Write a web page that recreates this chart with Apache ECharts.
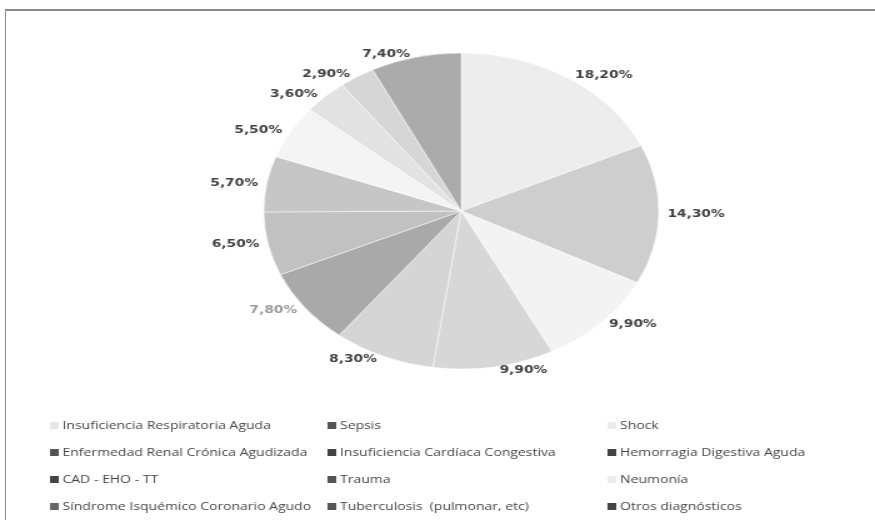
<!DOCTYPE html>
<html>
<head>
<meta charset="utf-8">
<script src="https://cdn.jsdelivr.net/npm/echarts@6/dist/echarts.min.js"></script>
<style>
  html, body { margin: 0; padding: 0; background: #fff; overflow: hidden; }
  .frame {
    position: absolute; left: 5px; top: 9px; width: 875px; height: 520px;
    border-top: 2px solid #8a8a8a; border-left: 1px solid #8a8a8a;
  }
  /* the scanned chart is stretched sideways, so the whole chart is drawn 700 wide and widened */
  .com-chart {
    position: absolute; left: 0; top: 0; width: 700px; height: 520px;
    transform: scaleX(1.25); transform-origin: 0 0;
  }
</style>
</head>
<body>
<div class="frame"></div>
<div class="com-chart" id="chart"></div>
<script>
// diagnósticos, en el orden del gráfico (sentido horario desde arriba)
const categories = [
  'Insuficiencia Respiratoria Aguda',
  'Sepsis',
  'Shock',
  'Enfermedad Renal Crónica Agudizada',
  'Insuficiencia Cardíaca Congestiva',
  'Hemorragia Digestiva Aguda',
  'CAD - EHO - TT',
  'Trauma',
  'Neumonía',
  'Síndrome Isquémico Coronario Agudo',
  'Tuberculosis  (pulmonar, etc)',
  'Otros diagnósticos'
]
const shares = [18.2, 14.3, 9.9, 9.9, 8.3, 7.8, 6.5, 5.7, 5.5, 3.6, 2.9, 7.4]

const sliceColors = ['#ededed', '#cecece', '#f3f3f3', '#d7d7d7', '#d5d5d5', '#a9a9a9',
                     '#c1c1c1', '#c6c6c6', '#f4f4f4', '#e2e2e2', '#d6d6d6', '#ababab']
const legendIconColors = ['#e6e6e6', '#555', '#ececec', '#555', '#444', '#444',
                          '#444', '#555', '#ececec', '#666', '#555', '#444']
// three legend columns, filled row by row
const legendColumns = [[0, 3, 6, 9], [1, 4, 7, 10], [2, 5, 8, 11]]
const legendLeft = [38, 260, 484]

const chartInstance = echarts.init(document.getElementById('chart'))

const legends = legendColumns.map((col, i) => ({
  orient: 'vertical',
  left: legendLeft[i],
  top: 420,
  padding: 0,
  itemWidth: 9,
  itemHeight: 9,
  itemGap: 16,
  icon: 'rect',
  textStyle: { color: '#444', fontSize: 11.2, fontFamily: 'Open Sans', padding: [0, 0, 0, -3] },
  data: col.map(k => ({ name: categories[k], itemStyle: { color: legendIconColors[k] } }))
}))

const initOption = {
  animation: false,
  legend: legends,
  series: [
    {
      type: 'pie',
      center: [369, 211],
      radius: 158,
      startAngle: 90,
      clockwise: true,
      avoidLabelOverlap: false,
      itemStyle: { borderColor: '#fff', borderWidth: 0.5 },
      label: {
        show: true,
        position: 'outside',
        distanceToLabelLine: 4,
        fontFamily: 'DejaVu Sans',
        fontWeight: 'bold',
        fontSize: 11,
        color: '#404040',
        formatter: p => p.value.toFixed(2).replace('.', ',') + '%'
      },
      labelLine: { show: false, length: 3, length2: 0 },
      data: shares.map((v, k) => ({
        name: categories[k],
        value: v,
        itemStyle: { color: sliceColors[k] },
        label: k === 5 ? { color: '#9a9a9a' } : undefined
      }))
    }
  ]
}
chartInstance.setOption(initOption)
</script>
</body>
</html>
